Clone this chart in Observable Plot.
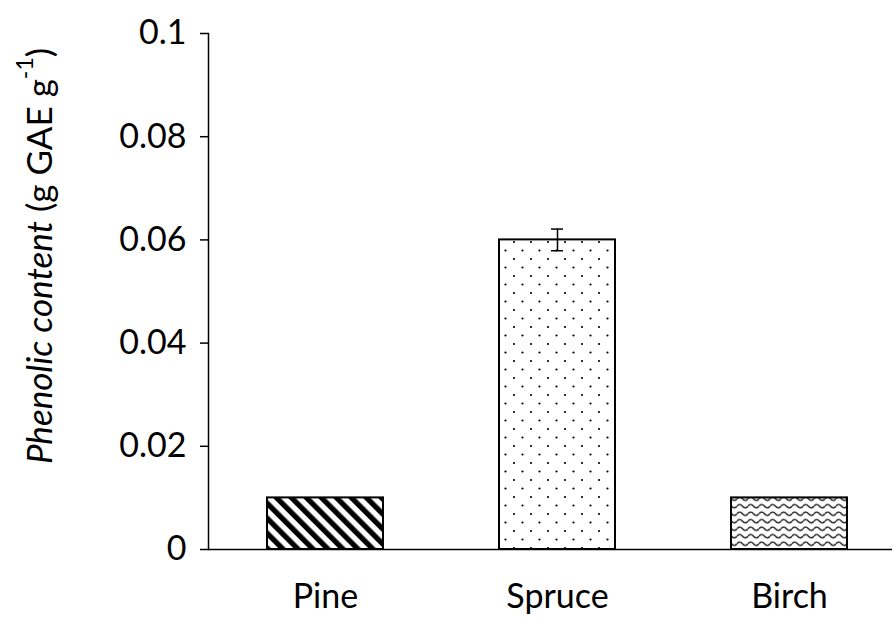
<!DOCTYPE html>
<html>
<head>
<meta charset="utf-8">
<script src="https://cdn.jsdelivr.net/npm/d3@7"></script>
<script src="https://cdn.jsdelivr.net/npm/@observablehq/plot@0.6"></script>
<style>
  html, body { margin: 0; padding: 0; background: white; }
  #chart { width: 893px; height: 623px; }
</style>
</head>
<body>
<div id="chart"></div>
<script>
const categories = ["Pine", "Spruce", "Birch"];
const values = [0.01, 0.06, 0.01];
const errors = [0, 0.0021, 0];
const patternIds = ["pat-pine", "pat-spruce", "pat-birch"];
const yTicks = [0, 0.02, 0.04, 0.06, 0.08, 0.1];
const yTickLabels = ["0", "0.02", "0.04", "0.06", "0.08", "0.1"];

const data = categories.map((c, i) => ({cat: c, value: values[i], err: errors[i], pat: patternIds[i]}));
const errData = data.filter(d => d.err > 0);

function defsMark() {
  const g = d3.create("svg:g");
  const defs = g.append("defs");
  // Pine: diagonal stripes
  const p1 = defs.append("pattern").attr("id", "pat-pine").attr("patternUnits", "userSpaceOnUse")
    .attr("width", 10.6).attr("height", 10.6).attr("patternTransform", "rotate(-45)");
  p1.append("rect").attr("width", 10.6).attr("height", 10.6).attr("fill", "white");
  p1.append("rect").attr("width", 5.3).attr("height", 10.6).attr("fill", "black");
  // Spruce: staggered dots
  const p2 = defs.append("pattern").attr("id", "pat-spruce").attr("patternUnits", "userSpaceOnUse")
    .attr("width", 17).attr("height", 17);
  p2.append("rect").attr("width", 17).attr("height", 17).attr("fill", "white");
  p2.append("circle").attr("cx", 4).attr("cy", 4).attr("r", 1.1).attr("fill", "black");
  p2.append("circle").attr("cx", 12.5).attr("cy", 12.5).attr("r", 1.1).attr("fill", "black");
  // Birch: waves
  const p3 = defs.append("pattern").attr("id", "pat-birch").attr("patternUnits", "userSpaceOnUse")
    .attr("width", 11).attr("height", 7.5);
  p3.append("rect").attr("width", 11).attr("height", 7.5).attr("fill", "white");
  p3.append("path").attr("d", "M0,3.75 Q2.75,0.5 5.5,3.75 T11,3.75")
    .attr("fill", "none").attr("stroke", "#222").attr("stroke-width", 1.5);
  return g.node();
}

const chart = Plot.plot({
  width: 893,
  height: 623,
  marginLeft: 208,
  marginRight: 1,
  marginTop: 33,
  marginBottom: 74,
  style: {fontFamily: "Lato, 'Open Sans', sans-serif", fontSize: "34px", color: "black", background: "white"},
  x: {domain: categories, paddingInner: 0.5, paddingOuter: 0.224, align: 0.567, label: null},
  y: {domain: [0, 0.1], label: null},
  color: {type: "identity"},
  marks: [
    defsMark,
    Plot.barY(data, {x: "cat", y: "value", fill: d => `url(#${d.pat})`, stroke: "black", strokeWidth: 2}),
    Plot.ruleY([0], {stroke: "black", strokeWidth: 1.5}),
    Plot.frame({anchor: "left", stroke: "black", strokeWidth: 1.5}),
    Plot.axisY({ticks: yTicks, tickFormat: d => yTickLabels[yTicks.indexOf(d)], tickSize: 8, tickPadding: 14, label: null, strokeWidth: 1.5, fontSize: 34}),
    Plot.axisX({tickSize: 0, tickPadding: 34, label: null, fontSize: 34}),
    Plot.ruleX(errData, {x: "cat", y1: d => d.value - d.err, y2: d => d.value + d.err, stroke: "black", strokeWidth: 1.5}),
    Plot.tickY(errData, {x: "cat", y: d => d.value + d.err, insetLeft: 52, insetRight: 52, stroke: "black", strokeWidth: 1.5}),
    Plot.tickY(errData, {x: "cat", y: d => d.value - d.err, insetLeft: 52, insetRight: 52, stroke: "black", strokeWidth: 1.5})
  ]
});

const svg = d3.select(chart);
const label = svg.append("text")
  .attr("transform", "translate(38, 256) rotate(-90)")
  .attr("text-anchor", "middle")
  .attr("dominant-baseline", "central")
  .attr("font-size", 35)
  .attr("fill", "black");
label.append("tspan").attr("font-style", "italic").text("Phenolic content");
label.append("tspan").text(" (g GAE g");
label.append("tspan").attr("baseline-shift", "super").attr("font-size", 23).text("-1");
label.append("tspan").text(")");

document.getElementById("chart").appendChild(chart);
</script>
</body>
</html>
